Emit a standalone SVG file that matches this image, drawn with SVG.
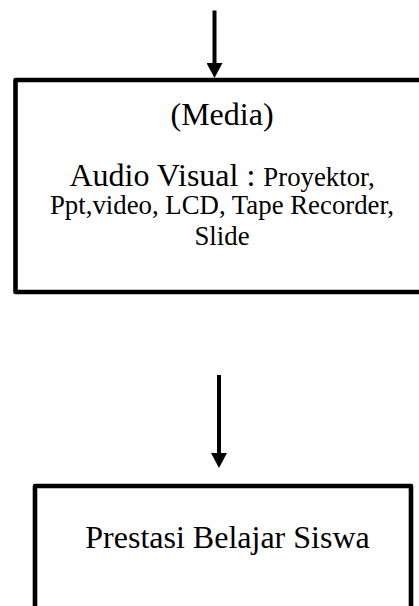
<svg xmlns="http://www.w3.org/2000/svg" width="419" height="606" viewBox="0 0 419 606">
<style>
.box{fill:#fff;stroke:#000;stroke-width:4.6;stroke-linejoin:round}
.conn{stroke:#000;stroke-width:4;fill:none}
text{font-family:"Liberation Serif","Times New Roman",serif;fill:#000;text-anchor:middle}
.big{font-size:32px}
.small{font-size:26.8px}
</style>
<defs>
<marker id="ah" markerUnits="userSpaceOnUse" markerWidth="16" markerHeight="16" viewBox="0 -8 16 16" refX="0" refY="0" orient="auto">
<path d="M0,-8 L15,0 L0,8 z" fill="#000"/>
</marker>
</defs>
<rect width="419" height="606" fill="#fff"/>
<g id="connectors">
<line class="conn" x1="214.5" y1="10.5" x2="214.5" y2="63" marker-end="url(#ah)"/>
<line class="conn" x1="219" y1="375" x2="219" y2="453" marker-end="url(#ah)"/>
</g>
<g id="media">
<rect class="box" x="15.5" y="80" width="420" height="212"/>
<text class="big" x="222" y="125">(Media)</text>
<text x="222" y="186"><tspan class="big">Audio Visual : </tspan><tspan class="small">Proyektor,</tspan></text>
<text class="small" x="222" y="214">Ppt,video, LCD, Tape Recorder,</text>
<text class="small" x="222" y="245">Slide</text>
</g>
<g id="prestasi">
<rect class="box" x="35" y="486" width="376" height="140"/>
<text class="big" x="227.5" y="548">Prestasi Belajar Siswa</text>
</g>
</svg>
